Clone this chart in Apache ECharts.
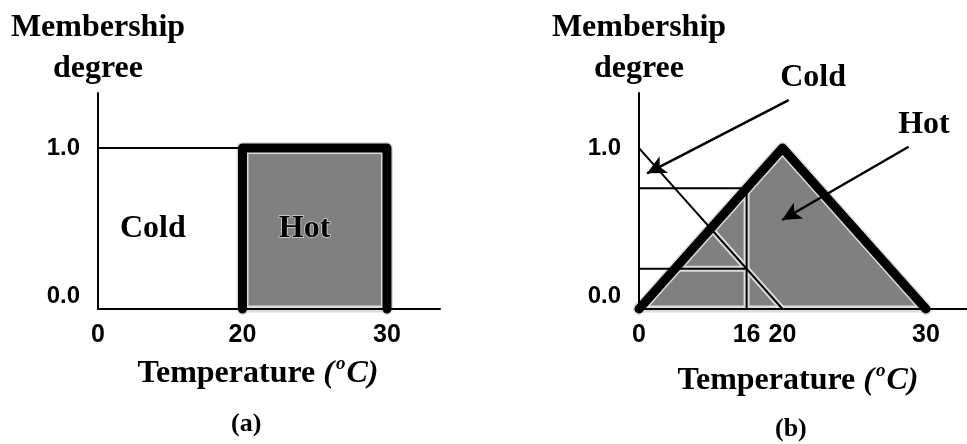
<!DOCTYPE html>
<html><head><meta charset="utf-8">
<script src="https://cdn.jsdelivr.net/npm/echarts@6/dist/echarts.min.js"></script>
<style>html,body{margin:0;padding:0;background:#fff}#c{width:967px;height:444px}</style>
</head><body><div id="c"></div>
<script>
// Schematic temperature axis (drawn non-linearly in the source): 0 °C -> 0, 20 °C -> 1, 30 °C -> 2
const xTickPosA = [0, 1, 2];
const xTickLabelsA = ['0', '20', '30'];
const xTickPosB = [0, 0.75, 1, 2];
const xTickLabelsB = ['0', '16', '20', '30'];
const yTicks = [0, 1];

// Panel (a): crisp sets
const coldA = [[0, 1], [1, 1], [1, 0]];
const hotA = [[1, 0], [1, 1], [2, 1], [2, 0]];
// Panel (b): fuzzy sets
const coldB = [[0, 1], [1, 0]];
const hotB = [[0, 0], [1, 1], [2, 0]];
const cutX = 0.75;        // 16 °C
const hotAtCut = 0.75;
const coldAtCut = 0.25;

// Annotation anchors (data units)
const labelsA = [{ name: 'Cold', value: [0.38, 0.5] }, { name: 'Hot', value: [1.43, 0.5] }];
const labelsB = [{ name: 'Cold', value: [1.213, 1.435] }, { name: 'Hot', value: [1.986, 1.143] }];
const arrowsB = [
  [[1.043, 1.298], [0.056, 0.843]],
  [[1.879, 1.008], [0.997, 0.553]]
];

const SERIF = 'Liberation Serif';
const SANS = 'Liberation Sans';
const BLACK = '#000';
const GRAY = '#808080';
const HALO = '#dcdcdc';

const riseX = y => hotB[0][0] + (hotB[1][0] - hotB[0][0]) * (y - hotB[0][1]) / (hotB[1][1] - hotB[0][1]);
const crossT = (coldB[0][1] - hotB[0][1]) / ((hotB[1][1] - hotB[0][1]) / (hotB[1][0] - hotB[0][0]) + (coldB[0][1] - coldB[1][1]) / (coldB[1][0] - coldB[0][0]));
const crossPt = [crossT, hotB[0][1] + crossT * (hotB[1][1] - hotB[0][1]) / (hotB[1][0] - hotB[0][0])];

function xAxisFor(idx, pos, labels, max, padRight) {
  return {
    gridIndex: idx, type: 'value', min: 0, max: max, z: 3,
    axisLine: { show: true, onZero: false, lineStyle: { color: BLACK, width: 2 } },
    axisTick: { show: false }, splitLine: { show: false },
    axisLabel: {
      customValues: pos,
      formatter: v => { const i = pos.findIndex(p => Math.abs(p - v) < 1e-6); return i >= 0 ? labels[i] : ''; },
      fontFamily: SANS, fontWeight: 'bold', fontSize: 25, color: BLACK, margin: 14
    },
    name: '{b|Temperature }{i|(}{s|o}{i|C)}',
    nameLocation: 'middle', nameGap: idx === 0 ? 46 : 53,
    nameTextStyle: {
      padding: [0, padRight, 0, 0],
      rich: {
        b: { fontFamily: SERIF, fontWeight: 'bold', fontSize: 32, color: BLACK },
        i: { fontFamily: SERIF, fontWeight: 'bold', fontStyle: 'italic', fontSize: 32, color: BLACK },
        s: { fontFamily: SERIF, fontWeight: 'bold', fontStyle: 'italic', fontSize: 19, color: BLACK, padding: [0, 1, 18, 2] }
      }
    }
  };
}
function yAxisFor(idx) {
  return {
    gridIndex: idx, type: 'value', min: 0, max: 1.342, z: 3,
    axisLine: { show: true, onZero: false, lineStyle: { color: BLACK, width: 2 } },
    axisTick: { show: false }, splitLine: { show: false },
    axisLabel: {
      customValues: yTicks,
      formatter: v => v === 0 ? '{lo|0.0}' : '{hi|' + v.toFixed(1) + '}',
      margin: 18,
      rich: {
        lo: { fontFamily: SANS, fontWeight: 'bold', fontSize: 24, color: BLACK, padding: [0, 0, 26, 0] },
        hi: { fontFamily: SANS, fontWeight: 'bold', fontSize: 24, color: BLACK }
      }
    },
    name: 'Membership\ndegree', nameLocation: 'end', nameGap: 4,
    nameTextStyle: { fontFamily: SERIF, fontWeight: 'bold', fontSize: 32, lineHeight: 41, color: BLACK, align: 'center' }
  };
}
function lineS(idx, data, color, width, z, extra) {
  return Object.assign({
    type: 'line', xAxisIndex: idx, yAxisIndex: idx, data: data,
    showSymbol: false, symbol: 'none', silent: true, clip: false, z: z,
    lineStyle: { color: color, width: width, cap: 'round', join: 'round' }
  }, extra || {});
}

const cutV = [[cutX, 0], [cutX, hotAtCut]];
const cutHi = [[0, hotAtCut], [cutX, hotAtCut]];
const cutLo = [[0, coldAtCut], [cutX, coldAtCut]];
const haloCold = [crossPt, coldB[1]];
const haloLo = [[riseX(coldAtCut), coldAtCut], [cutX, coldAtCut]];
const baseA = [hotA[0], hotA[hotA.length - 1]];
const baseB = [hotB[0], hotB[hotB.length - 1]];

const option = {
  animation: false,
  backgroundColor: '#fff',
  title: [
    { text: '(a)', left: 231, top: 411, padding: 0, textStyle: { fontFamily: SERIF, fontWeight: 'bold', fontSize: 26, color: BLACK } },
    { text: '(b)', left: 775, top: 416, padding: 0, textStyle: { fontFamily: SERIF, fontWeight: 'bold', fontSize: 26, color: BLACK } }
  ],
  grid: [
    { left: 98, top: 93, width: 342, height: 216 },
    { left: 639, top: 93, width: 328, height: 216 }
  ],
  xAxis: [xAxisFor(0, xTickPosA, xTickLabelsA, 2.367, 22), xAxisFor(1, xTickPosB, xTickLabelsB, 2.286, 10)],
  yAxis: [yAxisFor(0), yAxisFor(1)],
  series: [
    // (a)
    lineS(0, hotA, HALO, 12, 1, { areaStyle: { color: GRAY, opacity: 1 } }),
    lineS(0, baseA, HALO, 7, 2, { lineStyle: { color: HALO, width: 7, cap: 'butt' } }),
    lineS(0, coldA, BLACK, 2, 4),
    lineS(0, hotA, BLACK, 9, 5),
    // (b)
    lineS(1, hotB, HALO, 12, 1, { areaStyle: { color: GRAY, opacity: 1 } }),
    lineS(1, baseB, HALO, 7, 2, { lineStyle: { color: HALO, width: 7, cap: 'butt' } }),
    lineS(1, haloCold, HALO, 6, 2),
    lineS(1, cutV, HALO, 6, 2),
    lineS(1, haloLo, HALO, 6, 2),
    lineS(1, cutHi, BLACK, 2, 4),
    lineS(1, cutLo, BLACK, 2, 4),
    lineS(1, cutV, BLACK, 2, 4),
    lineS(1, coldB, BLACK, 2, 4, {
      markLine: {
        silent: true, animation: false, symbol: ['none', 'arrow'], symbolSize: [14, 19],
        label: { show: false },
        lineStyle: { color: BLACK, width: 2.5, type: 'solid' },
        emphasis: { disabled: true },
        data: arrowsB.map(a => [{ coord: a[0] }, { coord: a[1] }])
      }
    }),
    lineS(1, hotB, BLACK, 9, 5)
  ]
};
const chart = echarts.init(document.getElementById('c'), null, { renderer: 'canvas' });
chart.setOption(option);

// set-name labels, placed through the chart's own coordinate conversion
function textEl(gridIndex, item, extra) {
  const p = chart.convertToPixel({ gridIndex: gridIndex }, item.value);
  return {
    type: 'text', x: p[0], y: p[1], z: 100, silent: true,
    style: Object.assign({ text: item.name, fill: BLACK, font: 'bold 32px "Liberation Serif"', align: 'center', verticalAlign: 'middle' }, extra || {})
  };
}
chart.setOption({
  graphic: [
    textEl(0, labelsA[0]),
    textEl(0, labelsA[1], { stroke: '#d8d8d8', lineWidth: 1.5 }),
    textEl(1, labelsB[0]),
    textEl(1, labelsB[1])
  ]
});
</script>
</body></html>
